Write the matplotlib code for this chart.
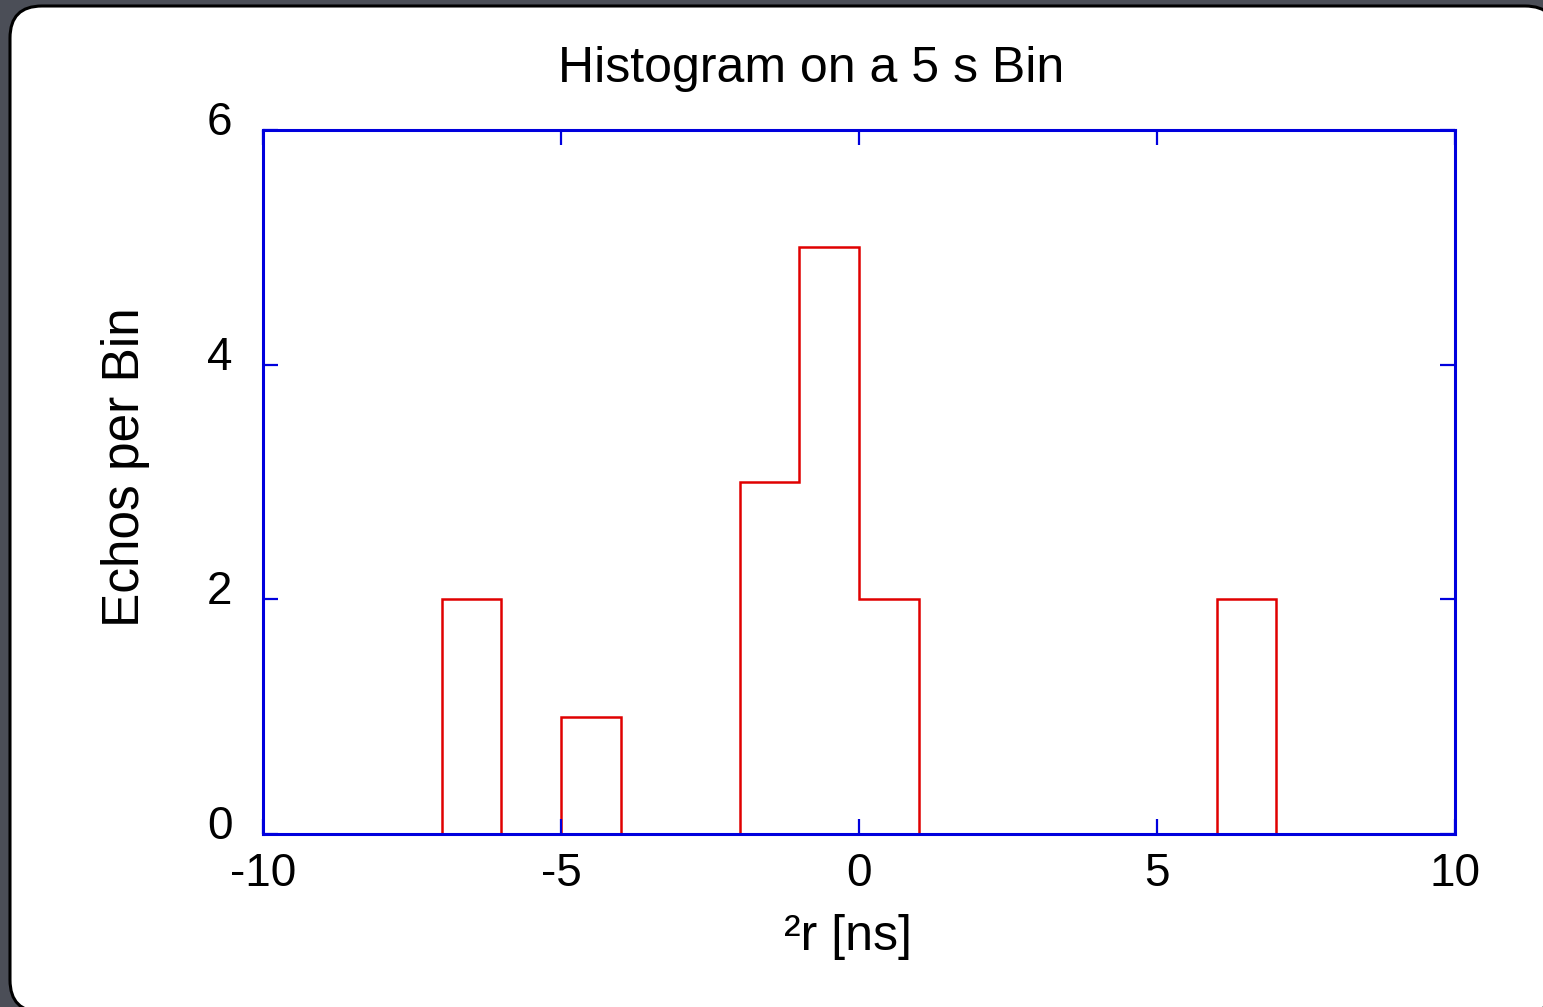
"""Step histogram of echo offsets on a rounded slide-style panel."""

import matplotlib

matplotlib.use("Agg")
import matplotlib.pyplot as plt
import numpy as np
from matplotlib.patches import FancyBboxPatch
from matplotlib.transforms import ScaledTranslation

plt.rcParams["font.family"] = ["Liberation Sans", "DejaVu Sans"]
plt.rcParams["axes.unicode_minus"] = False

# bin edges (ns) and echo counts per bin
bin_edges = np.arange(-10, 11, 1)
counts = [0, 0, 0, 2, 0, 1, 0, 0, 3, 5,
          2, 0, 0, 0, 0, 0, 2, 0, 0, 0]
x_ticks = [-10, -5, 0, 5, 10]
y_ticks = [0, 2, 4, 6]

W, H = 1543, 1007
figure = plt.figure(figsize=(W / 100, H / 100), dpi=100)
figure.patch.set_facecolor("#4b4e57")

# white rounded card behind the plot
card = FancyBboxPatch(
    (10, -5), 1547, 1006,
    boxstyle="round,pad=0,rounding_size=32",
    transform=None, facecolor="white", edgecolor="black", linewidth=2.2,
    zorder=-10,
)
figure.patches.append(card)

axis = figure.add_axes([263 / W, 1 - 834 / H, 1192 / W, 704 / H])
axis.set_facecolor("none")
axis.stairs(counts, bin_edges, color="#e00000", linewidth=1.8, baseline=0)

axis.set_xlim(-10, 10)
axis.set_ylim(0, 6)
axis.set_xticks(x_ticks)
axis.set_yticks(y_ticks)
for spine in axis.spines.values():
    spine.set_color("#0000dd")
    spine.set_linewidth(2.2)
axis.tick_params(
    direction="in", length=11, width=1.6, colors="#0000dd",
    labelcolor="black", labelsize=33, top=True, right=True,
)
axis.tick_params(axis="x", pad=13)
axis.tick_params(axis="y", pad=22)
lift = ScaledTranslation(0, 12 / 100, figure.dpi_scale_trans)
for label in axis.get_yticklabels():
    label.set_transform(label.get_transform() + lift)

figure.text(811 / W, 1 - 82 / H, "Histogram on a 5 s Bin",
            ha="center", va="baseline", fontsize=36)
figure.text(848 / W, 1 - 937 / H, "²r [ns]",
            ha="center", va="center", fontsize=36)
figure.text(125 / W, 1 - 467 / H, "Echos per Bin", rotation=90,
            ha="center", va="center", fontsize=37)

figure.savefig("out.png", dpi=100, facecolor=figure.get_facecolor())
plt.close(figure)
